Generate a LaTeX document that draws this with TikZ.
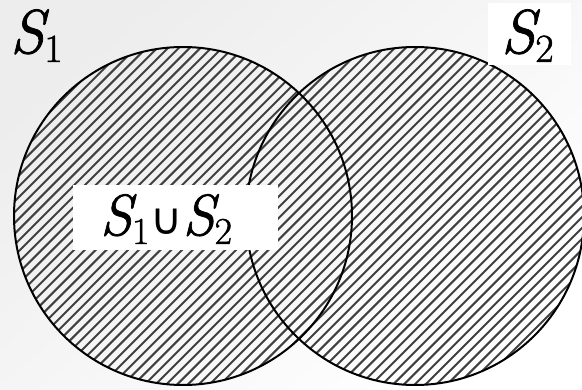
\documentclass[tikz,border=0pt]{standalone}
\usepackage{fontspec}
\newfontfamily\symfont{DejaVu Sans}
\newfontfamily\lmfont{Latin Modern Roman}[FakeBold=1.2]
\newcommand{\bigS}[1]{\fontsize{#1}{#1}\lmfont\itshape S\upshape}
\newcommand{\subd}[2]{\raisebox{-9pt}{\fontsize{#1}{#1}\lmfont #2}}
\begin{document}
\begin{tikzpicture}[x=1pt,y=-1pt,
  ring/.style={draw=black,line width=2pt},
  hatch/.style={black!75,line width=2pt}]
\useasboundingbox (0,0) rectangle (582,390);
\shade[top color=gray!14,bottom color=white,shading angle=40] (0,0) rectangle (582,390);
\coordinate (c1) at (183,216);
\coordinate (c2) at (415,216);
% hatching clipped to the union
\begin{scope}
  \clip (c1) circle (169) (c2) circle (169);
  \foreach \k in {-60,...,100}{
    \draw[hatch] ({\k*10.8-400},400) -- ({\k*10.8},0);
  }
\end{scope}
\draw[ring] (c1) circle (169);
\draw[ring] (c2) circle (169);
% S2 white box
\fill[white] (488,3) rectangle (571,65);
\node[anchor=base west,inner sep=0pt] (s1) at (10,53)
  {\bigS{62}\subd{40}{1}};
\node[anchor=base west,inner sep=0pt] (s2) at (501,53)
  {\bigS{62}\subd{40}{2}};
\fill[white] (73,185) rectangle (278,250);
\node[anchor=base west,inner sep=0pt] (u) at (100,235)
  {\bigS{58}\subd{38}{1}\hspace{1pt}{\symfont\fontsize{44}{44}\selectfont ∪}\bigS{58}\subd{38}{2}};
\end{tikzpicture}
\end{document}
